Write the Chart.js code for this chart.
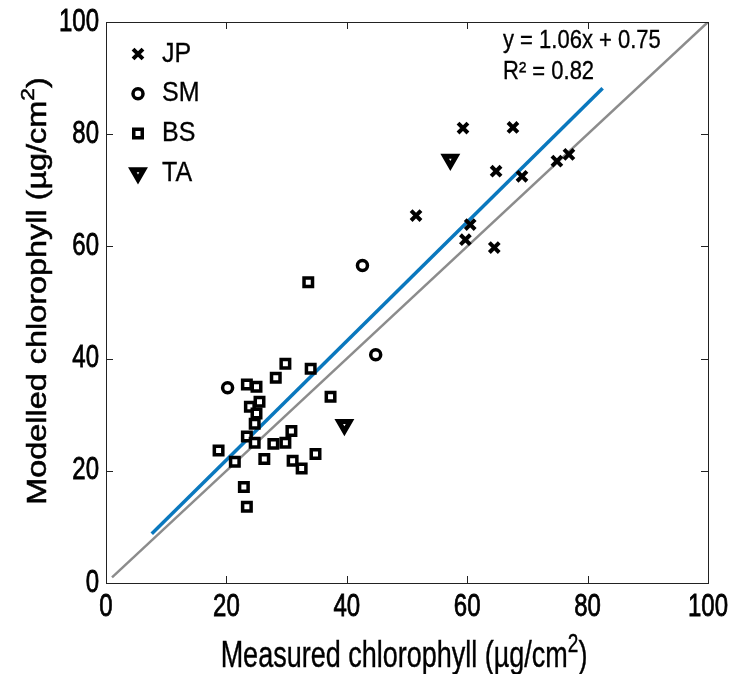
<!DOCTYPE html>
<html>
<head>
<meta charset="utf-8">
<script src="https://cdn.jsdelivr.net/npm/chart.js@4.4.0/dist/chart.umd.min.js"></script>
<style>
  html, body { margin: 0; padding: 0; background: #fff; }
  #wrap { width: 737px; height: 674px; }
</style>
</head>
<body>
<div id="wrap"><canvas id="chart"></canvas></div>
<script>
// measured (x) vs modelled (y) chlorophyll
const jpPoints = [
    { x: 51.5, y: 65.5 }, { x: 59.3, y: 81.1 }, { x: 67.6, y: 81.2 },
    { x: 64.8, y: 73.4 }, { x: 69.1, y: 72.5 }, { x: 74.9, y: 75.2 },
    { x: 76.9, y: 76.4 }, { x: 60.5, y: 63.9 }, { x: 59.7, y: 61.2 },
    { x: 64.5, y: 59.8 },
];
const smPoints = [
    { x: 42.6, y: 56.6 }, { x: 44.8, y: 40.7 }, { x: 20.2, y: 34.8 },
];
const bsPoints = [
    { x: 33.6, y: 53.6 }, { x: 29.8, y: 39.1 }, { x: 28.2, y: 36.6 },
    { x: 34.0, y: 38.2 }, { x: 23.4, y: 35.4 }, { x: 25.0, y: 35.0 },
    { x: 25.5, y: 32.3 }, { x: 23.9, y: 31.4 }, { x: 25.0, y: 30.2 },
    { x: 24.7, y: 28.4 }, { x: 37.3, y: 33.2 }, { x: 23.4, y: 26.1 },
    { x: 24.7, y: 25.0 }, { x: 30.8, y: 27.1 }, { x: 29.8, y: 25.0 },
    { x: 27.8, y: 24.8 }, { x: 26.3, y: 22.1 }, { x: 31.0, y: 21.8 },
    { x: 32.5, y: 20.4 }, { x: 34.8, y: 23.0 }, { x: 18.7, y: 23.6 },
    { x: 21.4, y: 21.6 }, { x: 22.9, y: 17.1 }, { x: 23.4, y: 13.6 },
];
const taPoints = [
    { x: 57.2, y: 75.5 }, { x: 39.6, y: 28.2 },
];
// fitted line ends and the 1:1 line
const fitLine = [{ x: 7.6, y: 8.8 }, { x: 82.5, y: 88.2 }];
const oneToOne = [{ x: 1, y: 1 }, { x: 100, y: 100 }];
const fitText = ["y = 1.06x + 0.75", "R\u00b2 = 0.82"];
const tickValues = [0, 20, 40, 60, 80, 100];
const xTitle = ["Measured chlorophyll (\u00b5g/cm", "2", ")"];
const yTitle = ["Modelled chlorophyll (\u00b5g/cm", "2", ")"];

const FONT = "'Liberation Sans', Arial, sans-serif";

// text squeezed like the original export (taller than wide)
function tallText(ctx, str, x, y, size, sy, align, weight) {
    ctx.save();
    ctx.font = size + "px " + FONT;
    ctx.textAlign = align || "left";
    ctx.textBaseline = "middle";
    ctx.translate(x, y);
    ctx.scale(1, sy);
    ctx.fillText(str, 0, 0);
    if (weight) {
        ctx.lineWidth = weight;
        ctx.strokeStyle = ctx.fillStyle;
        ctx.strokeText(str, 0, 0);
    }
    ctx.restore();
}

// title with raised "2", drawn centred on (0,0) of the current transform
function titleWithSup(ctx, parts, size, weight) {
    const big = size + "px " + FONT;
    const small = Math.round(size * 0.72) + "px " + FONT;
    ctx.font = big;
    const w0 = ctx.measureText(parts[0]).width;
    ctx.font = small;
    const w1 = ctx.measureText(parts[1]).width;
    ctx.font = big;
    const w2 = ctx.measureText(parts[2]).width;
    const x = -(w0 + w1 + w2) / 2;
    const base = size * 0.36;
    ctx.textBaseline = "alphabetic";
    ctx.textAlign = "left";
    ctx.strokeStyle = ctx.fillStyle;
    ctx.lineWidth = weight || 0;
    const put = (s, f, px, py) => {
        ctx.font = f;
        ctx.fillText(s, px, py);
        if (weight) ctx.strokeText(s, px, py);
    };
    put(parts[0], big, x, base);
    put(parts[1], small, x + w0, base - size * 0.42);
    put(parts[2], big, x + w0 + w1, base);
}

// box + inward ticks on all four sides, labels, legend and fit text
const extras = {
    id: "extras",
    afterDraw(chart) {
        const { ctx, chartArea: a, scales } = chart;
        ctx.save();
        ctx.strokeStyle = "#222";
        ctx.lineWidth = 1;
        ctx.strokeRect(a.left + 0.5, a.top + 0.5, a.right - a.left, a.bottom - a.top);
        const len = 7;
        ctx.beginPath();
        tickValues.forEach(v => {
            const px = Math.round(scales.x.getPixelForValue(v)) + 0.5;
            const py = Math.round(scales.y.getPixelForValue(v)) + 0.5;
            ctx.moveTo(px, a.bottom); ctx.lineTo(px, a.bottom - len);
            ctx.moveTo(px, a.top); ctx.lineTo(px, a.top + len);
            ctx.moveTo(a.left, py); ctx.lineTo(a.left + len, py);
            ctx.moveTo(a.right, py); ctx.lineTo(a.right - len, py);
        });
        ctx.stroke();

        ctx.fillStyle = "#000";
        // tick labels
        tickValues.forEach(v => {
            tallText(ctx, String(v), scales.x.getPixelForValue(v), a.bottom + 24, 24, 1.3, "center", 0.6);
            tallText(ctx, String(v), a.left - 7, scales.y.getPixelForValue(v), 24, 1.3, "right", 0.6);
        });

        // axis titles
        ctx.save();
        ctx.translate((a.left + a.right) / 2 - 3, 654);
        ctx.scale(1, 1.35);
        titleWithSup(ctx, xTitle, 27, 0.3);
        ctx.restore();

        ctx.save();
        ctx.translate(36, 291);
        ctx.rotate(-Math.PI / 2);
        ctx.scale(1.2, 1);
        titleWithSup(ctx, yTitle, 27, 0.5);
        ctx.restore();

        // legend
        const rows = chart.data.datasets.filter(d => d.legend);
        rows.forEach((d, i) => {
            const y = 54 + i * 39.7;
            ctx.strokeStyle = "#000";
            ctx.fillStyle = "#fff";
            ctx.lineWidth = d.borderWidth;
            Chart.helpers.drawPoint(ctx, {
                pointStyle: d.pointStyle, radius: d.pointRadius,
                rotation: d.pointRotation || 0, borderWidth: d.borderWidth
            }, 138, y);
            ctx.fillStyle = "#000";
            tallText(ctx, d.label, 162, y, 25, 1.12, "left", 0.3);
        });

        // regression text
        tallText(ctx, fitText[0], 503, 41, 22, 1.2, "left", 0.3);
        tallText(ctx, fitText[1], 503, 72, 22, 1.2, "left", 0.3);
        ctx.restore();
    }
};

const ctx = document.getElementById("chart").getContext("2d");
const chart = new Chart(ctx, {
    type: "scatter",
    data: {
        datasets: [
            {
                label: "JP", legend: true, data: jpPoints,
                pointStyle: "crossRot", pointRadius: 7, borderWidth: 4,
                borderColor: "#000", backgroundColor: "#fff", order: 1,
            },
            {
                label: "SM", legend: true, data: smPoints,
                pointStyle: "circle", pointRadius: 5, borderWidth: 3.5,
                borderColor: "#000", backgroundColor: "#fff", order: 1,
            },
            {
                label: "BS", legend: true, data: bsPoints,
                pointStyle: "rect", pointRadius: 6, borderWidth: 3.5,
                borderColor: "#000", backgroundColor: "#fff", order: 1,
            },
            {
                label: "TA", legend: true, data: taPoints,
                pointStyle: "triangle", pointRotation: 180, pointRadius: 6.5, borderWidth: 5,
                borderColor: "#000", backgroundColor: "#fff", order: 1,
            },
            {
                label: "fit", data: fitLine, showLine: true, pointRadius: 0,
                borderColor: "#0a78be", borderWidth: 3.5, order: 2,
            },
            {
                label: "1:1", data: oneToOne, showLine: true, pointRadius: 0,
                borderColor: "#8c8c8c", borderWidth: 2.5, order: 3,
            },
        ],
    },
    options: {
        responsive: true,
        maintainAspectRatio: false,
        animation: false,
        layout: { padding: { top: 22, right: 29, left: 0, bottom: 0 } },
        plugins: {
            legend: { display: false },
            tooltip: { enabled: false },
        },
        scales: {
            x: {
                type: "linear", min: 0, max: 100,
                afterBuildTicks: s => { s.ticks = tickValues.map(v => ({ value: v })); },
                afterFit: s => { s.height = 91; },
                grid: { display: false },
                border: { display: false },
                ticks: { display: false },
            },
            y: {
                type: "linear", min: 0, max: 100,
                afterBuildTicks: s => { s.ticks = tickValues.map(v => ({ value: v })); },
                afterFit: s => { s.width = 106; },
                grid: { display: false },
                border: { display: false },
                ticks: { display: false },
            },
        },
    },
    plugins: [extras],
});
</script>
</body>
</html>
